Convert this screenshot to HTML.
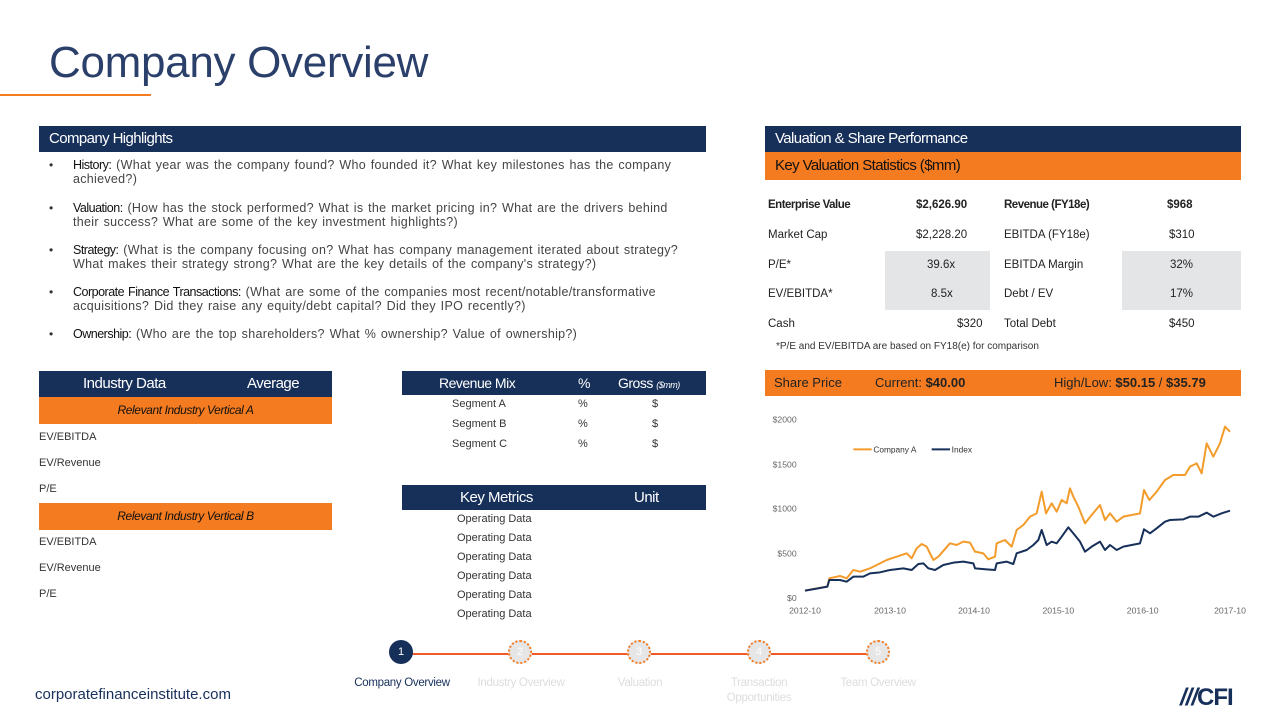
<!DOCTYPE html>
<html><head><meta charset="utf-8"><style>
*{margin:0;padding:0;box-sizing:border-box}
body{width:1280px;height:720px;background:#fff;position:relative;overflow:hidden;font-family:"Liberation Sans",sans-serif;color:#333}
.a{position:absolute;white-space:nowrap}
.nav{background:#17305a;color:#fff}
.or{background:#f47b20;color:#111}
.hb{font-size:15px;letter-spacing:-0.6px;padding-left:10px;line-height:26px}
.bl{font-size:12.5px;letter-spacing:0.3px;word-spacing:1px;line-height:14px;color:#444;left:73px}
.bl b{color:#111;font-weight:normal;letter-spacing:-0.5px}
.dot{left:49px;font-size:12px}
.t{font-size:11.5px;color:#222}
.g{background:#e4e5e7}
.sm{font-size:11px;color:#333}
.c{position:absolute;width:24px;height:24px;border-radius:50%;border:2px dotted #f47b20;background:#e6e6e6;color:#fff;font-size:11px;text-align:center;line-height:20px;top:640px}
.lab{position:absolute;top:676px;font-size:11.5px;color:#ddd;text-align:center;width:120px;letter-spacing:-0.3px;line-height:15px}
</style></head><body>
<div class="a" style="left:49px;top:38px;font-size:44px;color:#2a3f6a;letter-spacing:-0.3px">Company Overview</div>
<div class="a" style="left:0;top:94px;width:151px;height:2px;background:#f47b20"></div>

<div class="a nav hb" style="left:39px;top:126px;width:667px;height:26px">Company Highlights</div>
<div class="a dot" style="top:158px">•</div><div class="a bl" style="top:158px"><b>History:</b> (What year was the company found? Who founded it? What key milestones has the company<br>achieved?)</div>
<div class="a dot" style="top:201px">•</div><div class="a bl" style="top:201px"><b>Valuation:</b> (How has the stock performed? What is the market pricing in? What are the drivers behind<br>their success? What are some of the key investment highlights?)</div>
<div class="a dot" style="top:243px">•</div><div class="a bl" style="top:243px"><b>Strategy:</b> (What is the company focusing on? What has company management iterated about strategy?<br>What makes their strategy strong? What are the key details of the company's strategy?)</div>
<div class="a dot" style="top:285px">•</div><div class="a bl" style="top:285px"><b>Corporate Finance Transactions:</b> (What are some of the companies most recent/notable/transformative<br>acquisitions? Did they raise any equity/debt capital? Did they IPO recently?)</div>
<div class="a dot" style="top:327px">•</div><div class="a bl" style="top:327px"><b>Ownership:</b> (Who are the top shareholders? What % ownership? Value of ownership?)</div>

<div class="a nav hb" style="left:765px;top:126px;width:476px;height:26px">Valuation &amp; Share Performance</div>
<div class="a or hb" style="left:765px;top:152px;width:476px;height:28px;line-height:28px">Key Valuation Statistics ($mm)</div>
<div class="a g" style="left:885px;top:251px;width:105px;height:59px"></div>
<div class="a g" style="left:1122px;top:251px;width:119px;height:59px"></div>
<div class="a t" style="left:768px;top:199px;font-weight:bold;letter-spacing:-0.5px">Enterprise Value</div>
<div class="a t" style="left:916px;top:199px;font-weight:bold">$2,626.90</div>
<div class="a t" style="left:1004px;top:199px;font-weight:bold;letter-spacing:-0.5px">Revenue (FY18e)</div>
<div class="a t" style="left:1167px;top:199px;font-weight:bold">$968</div>
<div class="a t" style="left:768px;top:229px">Market Cap</div><div class="a t" style="left:916px;top:229px">$2,228.20</div>
<div class="a t" style="left:1004px;top:229px">EBITDA (FY18e)</div><div class="a t" style="left:1169px;top:229px">$310</div>
<div class="a t" style="left:768px;top:259px">P/E*</div><div class="a t" style="left:927px;top:259px">39.6x</div>
<div class="a t" style="left:1004px;top:259px">EBITDA Margin</div><div class="a t" style="left:1170px;top:259px">32%</div>
<div class="a t" style="left:768px;top:288px">EV/EBITDA*</div><div class="a t" style="left:931px;top:288px">8.5x</div>
<div class="a t" style="left:1004px;top:288px">Debt / EV</div><div class="a t" style="left:1170px;top:288px">17%</div>
<div class="a t" style="left:768px;top:318px">Cash</div><div class="a t" style="left:957px;top:318px">$320</div>
<div class="a t" style="left:1004px;top:318px">Total Debt</div><div class="a t" style="left:1169px;top:318px">$450</div>
<div class="a" style="left:776px;top:341px;font-size:10px;color:#333">*P/E and EV/EBITDA are based on FY18(e) for comparison</div>

<div class="a nav" style="left:39px;top:371px;width:293px;height:26px;font-size:15px;letter-spacing:-0.5px;line-height:26px"><span style="position:absolute;left:44px">Industry Data</span><span style="position:absolute;left:208px">Average</span></div>
<div class="a or" style="left:39px;top:397px;width:293px;height:27px;font-size:12px;font-style:italic;text-align:center;line-height:27px;letter-spacing:-0.4px">Relevant Industry Vertical A</div>
<div class="a sm" style="left:39px;top:431px">EV/EBITDA</div>
<div class="a sm" style="left:39px;top:457px">EV/Revenue</div>
<div class="a sm" style="left:39px;top:483px">P/E</div>
<div class="a or" style="left:39px;top:503px;width:293px;height:27px;font-size:12px;font-style:italic;text-align:center;line-height:27px;letter-spacing:-0.4px">Relevant Industry Vertical B</div>
<div class="a sm" style="left:39px;top:536px">EV/EBITDA</div>
<div class="a sm" style="left:39px;top:562px">EV/Revenue</div>
<div class="a sm" style="left:39px;top:588px">P/E</div>

<div class="a nav" style="left:402px;top:371px;width:304px;height:24px;font-size:14px;letter-spacing:-0.5px;line-height:24px"><span style="position:absolute;left:37px">Revenue Mix</span><span style="position:absolute;left:176px">%</span><span style="position:absolute;left:216px">Gross <i style="font-size:9px">($mm)</i></span></div>
<div class="a sm" style="left:452px;top:398px">Segment A</div><div class="a sm" style="left:578px;top:398px">%</div><div class="a sm" style="left:652px;top:398px">$</div>
<div class="a sm" style="left:452px;top:418px">Segment B</div><div class="a sm" style="left:578px;top:418px">%</div><div class="a sm" style="left:652px;top:418px">$</div>
<div class="a sm" style="left:452px;top:438px">Segment C</div><div class="a sm" style="left:578px;top:438px">%</div><div class="a sm" style="left:652px;top:438px">$</div>

<div class="a nav" style="left:402px;top:485px;width:304px;height:25px;font-size:15px;letter-spacing:-0.5px;line-height:25px"><span style="position:absolute;left:58px">Key Metrics</span><span style="position:absolute;left:232px">Unit</span></div>
<div class="a sm" style="left:457px;top:513px">Operating Data</div>
<div class="a sm" style="left:457px;top:532px">Operating Data</div>
<div class="a sm" style="left:457px;top:551px">Operating Data</div>
<div class="a sm" style="left:457px;top:570px">Operating Data</div>
<div class="a sm" style="left:457px;top:589px">Operating Data</div>
<div class="a sm" style="left:457px;top:608px">Operating Data</div>

<div class="a or" style="left:765px;top:370px;width:476px;height:26px;font-size:13px;line-height:26px;color:#222">
<span style="position:absolute;left:9px">Share Price</span><span style="position:absolute;left:110px">Current: <b>$40.00</b></span><span style="position:absolute;left:289px">High/Low: <b>$50.15</b> / <b>$35.79</b></span></div>

<svg class="a" style="left:740px;top:360px" width="510" height="260" viewBox="0 0 1530 780">
<g font-family="Liberation Sans" font-size="26" fill="#666">
<text x="170" y="188" text-anchor="end">$2000</text><text x="170" y="322" text-anchor="end">$1500</text>
<text x="170" y="455" text-anchor="end">$1000</text><text x="170" y="590" text-anchor="end">$500</text>
<text x="170" y="723" text-anchor="end">$0</text>
<text x="195" y="760" text-anchor="middle">2012-10</text><text x="450" y="760" text-anchor="middle">2013-10</text>
<text x="702" y="760" text-anchor="middle">2014-10</text><text x="955" y="760" text-anchor="middle">2015-10</text>
<text x="1208" y="760" text-anchor="middle">2016-10</text><text x="1470" y="760" text-anchor="middle">2017-10</text>
<text x="400" y="277" fill="#333" font-size="25">Company A</text><text x="635" y="277" fill="#333" font-size="25">Index</text>
</g>
<line x1="340" y1="268" x2="395" y2="268" stroke="#f39c2b" stroke-width="6"/>
<line x1="575" y1="268" x2="630" y2="268" stroke="#17305a" stroke-width="6"/>
<polyline fill="none" stroke="#f39c2b" stroke-width="6" stroke-linejoin="round" points="195,692 230,685 262,680 268,655 300,648 320,655 340,630 360,635 390,625 420,610 440,600 470,590 500,580 515,595 530,565 545,552 560,560 580,600 595,590 630,550 650,555 670,545 690,548 705,575 730,580 745,598 765,590 770,550 795,540 815,560 830,510 850,495 870,470 890,460 905,395 918,460 935,430 950,455 965,420 980,430 990,385 1000,410 1015,440 1035,490 1055,465 1080,435 1095,480 1110,460 1130,485 1150,470 1175,465 1200,460 1212,390 1228,420 1250,395 1275,360 1300,345 1335,345 1350,320 1370,310 1385,340 1400,250 1420,290 1440,250 1455,200 1470,215"/>
<polyline fill="none" stroke="#17305a" stroke-width="6" stroke-linejoin="round" points="195,692 230,686 262,680 268,660 300,660 320,665 340,650 370,650 390,640 420,637 450,630 490,625 515,630 535,612 550,610 565,625 585,630 610,615 640,608 670,605 700,610 705,625 740,628 765,630 770,610 800,605 820,612 830,580 860,570 880,555 895,540 905,510 920,555 935,545 950,550 965,530 985,502 1000,520 1020,545 1035,575 1055,560 1080,545 1095,570 1110,555 1130,570 1150,560 1175,555 1200,550 1212,508 1230,520 1250,505 1275,485 1290,480 1330,478 1350,470 1375,470 1400,458 1420,470 1445,460 1470,452"/>
</svg>

<div class="a" style="left:400px;top:653px;width:477px;height:1.5px;background:#f05a28"></div>
<div class="c" style="left:389px;background:#17305a;border-color:#17305a">1</div>
<div class="c" style="left:508px">2</div>
<div class="c" style="left:627px">3</div>
<div class="c" style="left:747px">4</div>
<div class="c" style="left:866px">5</div>
<div class="lab" style="left:342px;color:#17305a">Company Overview</div>
<div class="lab" style="left:461px">Industry Overview</div>
<div class="lab" style="left:580px">Valuation</div>
<div class="lab" style="left:699px">Transaction<br>Opportunities</div>
<div class="lab" style="left:818px">Team Overview</div>

<div class="a" style="left:35px;top:686px;font-size:15px;color:#17305a">corporatefinanceinstitute.com</div>
<div class="a" style="left:1180px;top:684px;font-size:24px;color:#17305a;font-weight:bold;letter-spacing:-1px"><i>///</i>CFI</div>
</body></html>
